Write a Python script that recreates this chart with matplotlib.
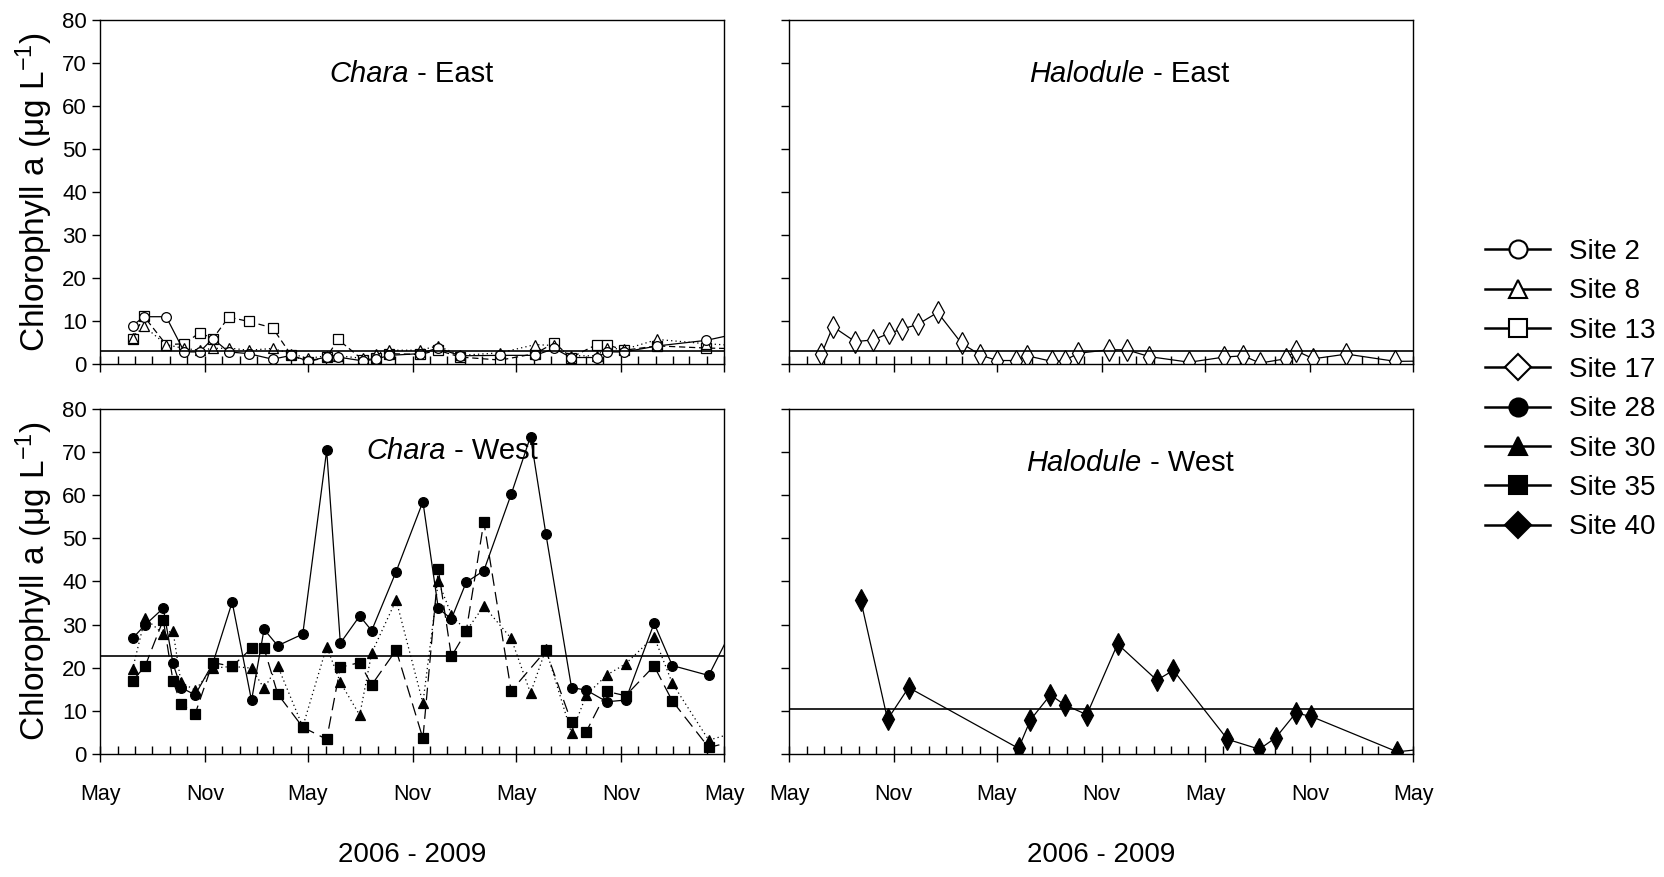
import numpy as np
import pandas as pd
import matplotlib
matplotlib.use('Agg')
import matplotlib.pyplot as plt
import matplotlib.dates as mdates
from matplotlib.lines import Line2D

plt.rcParams['font.family'] = ['Liberation Sans', 'DejaVu Sans']
plt.rcParams['mathtext.default'] = 'regular'

# sampling dates, east side (sites 2, 8, 13, 17)
east_dates = pd.to_datetime([
    '2006-06-27', '2006-07-17', '2006-08-25', '2006-09-26', '2006-10-23', '2006-11-15',
    '2006-12-13', '2007-01-17', '2007-02-28', '2007-04-02', '2007-05-01', '2007-06-03',
    '2007-06-23', '2007-08-06', '2007-08-28', '2007-09-21', '2007-11-14', '2007-12-15',
    '2008-01-24', '2008-04-03', '2008-06-03', '2008-07-07', '2008-08-05', '2008-09-19',
    '2008-10-07', '2008-11-07', '2009-01-04', '2009-03-31', '2009-06-15'])

site2 = [8.8, 10.9, 10.9, 2.7, 2.7, 5.8, 2.7, 2.3, 1.0, 1.9, 0.6, 1.5, 1.5, 0.6, 1.0,
         1.9, 2.3, 3.6, 1.8, 1.9, 1.9, 3.5, 1.4, 1.4, 2.7, 2.7, 4.1, 5.4, 7.6]
site8 = [6.0, 8.7, 4.4, 3.5, 3.1, 3.5, 3.6, 3.1, 3.5, 2.3, 1.2, 1.8, 1.8, 1.2, 2.3,
         3.1, 3.1, 4.1, 1.9, 2.5, 4.4, 4.2, 1.8, 1.8, 3.6, 3.3, 5.6, 4.6, 4.0]
site13 = [5.8, 11.0, 4.4, 4.6, 7.2, 5.8, 10.8, 9.8, 8.3, 1.9, 0.4, 1.5, 5.6, 0.8, 1.2,
          2.3, 2.1, 3.1, 1.5, 0.8, 2.3, 4.8, 1.4, 4.4, 4.4, 3.1, 4.1, 3.6, 3.4]
site17 = [2.2, 8.6, 5.1, 5.5, 7.0, 8.0, 9.1, 11.9, 4.7, 2.0, 0.7, 0.7, 1.8, 0.5, 0.7,
          2.4, 3.2, 3.2, 1.6, 0.3, 1.5, 1.8, 0.1, 1.1, 3.0, 1.1, 2.2, 0.5, 0.6]

# sampling dates, west side Chara sites (28, 30, 35)
west_dates = pd.to_datetime([
    '2006-06-27', '2006-07-19', '2006-08-20', '2006-09-06', '2006-09-20', '2006-10-15',
    '2006-11-15', '2006-12-19', '2007-01-22', '2007-02-13', '2007-03-09', '2007-04-22',
    '2007-06-03', '2007-06-27', '2007-07-31', '2007-08-21', '2007-10-03', '2007-11-19',
    '2007-12-16', '2008-01-08', '2008-02-03', '2008-03-05', '2008-04-22', '2008-05-26',
    '2008-06-22', '2008-08-06', '2008-09-01', '2008-10-07', '2008-11-09', '2008-12-29',
    '2009-01-30', '2009-04-04', '2009-06-19'])

site28 = [26.8, 29.9, 33.8, 21.0, 15.4, 13.7, 21.0, 35.2, 12.4, 28.9, 25.1, 27.8, 70.4,
          25.7, 32.0, 28.6, 42.3, 58.5, 33.8, 31.3, 39.8, 42.5, 60.2, 73.6, 51.0, 15.4,
          14.8, 12.1, 12.5, 30.3, 20.5, 18.2, 38.0]
site30 = [19.6, 31.5, 27.8, 28.6, 16.6, 14.8, 19.9, 20.3, 19.9, 15.2, 20.4, 6.3, 24.9,
          16.6, 9.0, 23.4, 35.7, 11.8, 40.0, 32.3, 28.5, 34.3, 26.8, 14.1, 24.3, 4.8,
          13.7, 18.3, 20.9, 27.2, 16.4, 3.2, 6.1]
site35 = [17.0, 20.3, 31.1, 17.0, 11.6, 9.3, 21.2, 20.3, 24.5, 24.5, 13.9, 6.2, 3.4,
          20.1, 21.2, 16.0, 24.1, 3.6, 42.9, 22.6, 28.4, 53.8, 14.6, np.nan, 24.0, 7.3,
          5.2, 14.5, 13.5, 20.4, 12.3, 1.5, 4.0]

# Halodule west (site 40)
site40_dates = pd.to_datetime([
    '2006-09-04', '2006-10-21', '2006-11-27', '2007-06-08', '2007-06-29', '2007-08-03',
    '2007-08-28', '2007-10-06', '2007-11-29', '2008-02-06', '2008-03-06', '2008-06-09',
    '2008-08-04', '2008-09-02', '2008-10-07', '2008-11-03', '2009-04-03', '2009-06-15'])
site40 = [35.6, 8.0, 15.4, 1.3, 7.9, 13.7, 11.4, 9.1, 25.5, 17.1, 19.4, 3.4, 1.1, 3.8,
          9.5, 8.7, 0.5, 1.5]

# horizontal reference lines for each panel
ref_chara_east = 3.0
ref_halodule_east = 2.8
ref_chara_west = 22.7
ref_halodule_west = 10.4

site_names = ['Site 2', 'Site 8', 'Site 13', 'Site 17', 'Site 28', 'Site 30', 'Site 35', 'Site 40']
site_markers = ['o', '^', 's', 'D', 'o', '^', 's', 'D']
site_filled = [False, False, False, False, True, True, True, True]


def draw(ax, dates, vals, marker, filled, ls, ms=7):
    v = np.array(vals, dtype=float)
    ok = ~np.isnan(v)
    ax.plot(dates[ok], v[ok], color='black', lw=0.9, linestyle=ls, marker=marker,
            markersize=ms, markeredgewidth=0.9, markeredgecolor='black',
            markerfacecolor='black' if filled else 'white')


def setup(ax, left):
    ax.set_xlim(pd.Timestamp('2006-05-01'), pd.Timestamp('2009-05-01'))
    ax.set_ylim(0, 80)
    ax.set_yticks(range(0, 81, 10))
    ax.xaxis.set_major_locator(mdates.MonthLocator(bymonth=[5, 11]))
    ax.xaxis.set_minor_locator(mdates.MonthLocator())
    ax.xaxis.set_major_formatter(mdates.DateFormatter('%b'))
    ax.tick_params(axis='x', which='major', direction='inout', length=11, width=1,
                   labelsize=15.5, pad=16)
    ax.tick_params(axis='x', which='minor', direction='in', length=6, width=1)
    ax.tick_params(axis='y', direction='out', length=6, width=1, labelsize=16,
                   labelleft=left)
    for s in ax.spines.values():
        s.set_linewidth(1.0)
    if left:
        ax.set_ylabel('Chlorophyll a (\u03bcg L$^{-1}$)', fontsize=24, labelpad=5)


def title(ax, x, y, it, rest):
    ax.text(x, y, it, transform=ax.transAxes, ha='right', va='baseline',
            fontsize=21, style='italic')
    ax.text(x, y, rest, transform=ax.transAxes, ha='left', va='baseline',
            fontsize=21)


fig = plt.figure(figsize=(16.65, 8.77), dpi=100)
ax1 = fig.add_axes([0.0601, 0.5855, 0.3748, 0.3917])
ax2 = fig.add_axes([0.4739, 0.5855, 0.3748, 0.3917])
ax3 = fig.add_axes([0.0601, 0.1403, 0.3748, 0.3934])
ax4 = fig.add_axes([0.4739, 0.1403, 0.3748, 0.3934])

# Chara - East
draw(ax1, east_dates, site13, 's', False, (0, (5, 3)))
draw(ax1, east_dates, site8, '^', False, (0, (1, 2.5)))
draw(ax1, east_dates, site2, 'o', False, '-')
ax1.axhline(ref_chara_east, color='black', lw=1.2)

# Halodule - East
draw(ax2, east_dates, site17, 'd', False, '-', ms=11)
ax2.axhline(ref_halodule_east, color='black', lw=1.2)

# Chara - West
draw(ax3, west_dates, site35, 's', True, (0, (10, 5)), ms=6.5)
draw(ax3, west_dates, site30, '^', True, (0, (1, 2.5)))
draw(ax3, west_dates, site28, 'o', True, '-')
ax3.axhline(ref_chara_west, color='black', lw=1.2)

# Halodule - West
draw(ax4, site40_dates, site40, 'd', True, '-', ms=11)
ax4.axhline(ref_halodule_west, color='black', lw=1.2)

setup(ax1, True)
setup(ax2, False)
setup(ax3, True)
setup(ax4, False)
ax1.tick_params(axis='x', which='major', labelbottom=False)
ax2.tick_params(axis='x', which='major', labelbottom=False)

for ax in (ax3, ax4):
    ax.set_xlabel('2006 - 2009', fontsize=20, labelpad=27)

title(ax1, 0.495, 0.820, 'Chara', ' - East')
title(ax2, 0.570, 0.820, 'Halodule', ' - East')
title(ax3, 0.554, 0.856, 'Chara', ' - West')
title(ax4, 0.565, 0.819, 'Halodule', ' - West')

handles = []
for name, m, f in zip(site_names, site_markers, site_filled):
    handles.append(Line2D([], [], color='black', lw=1.8, marker=m, markersize=13,
                          markeredgewidth=1.5, markeredgecolor='black',
                          markerfacecolor='black' if f else 'white'))
fig.legend(handles, site_names, loc='center left', bbox_to_anchor=(0.892, 0.5556),
           frameon=False, fontsize=20, handlelength=2.35, handletextpad=0.65,
           labelspacing=0.48, borderpad=0, borderaxespad=0)

fig.savefig('out.png', dpi=100)
